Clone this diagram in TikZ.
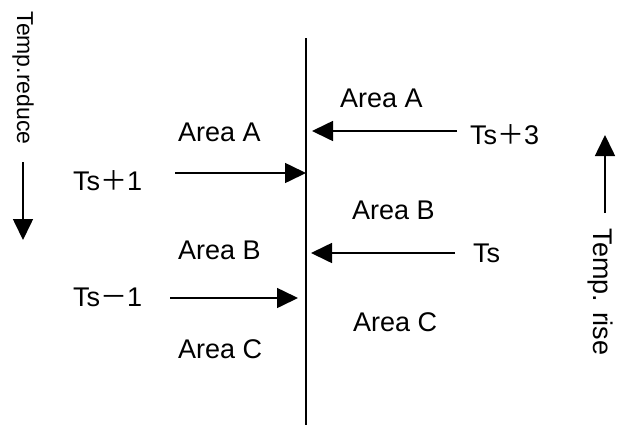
\documentclass[tikz,border=0pt]{standalone}
\usepackage{fontspec}
\setmainfont{Liberation Sans}
\newfontfamily\cjk{Noto Sans CJK SC}
\usetikzlibrary{arrows.meta}

\begin{document}
\begin{tikzpicture}[
    x=1pt, y=-1pt,
    font=\fontsize{27}{32}\selectfont,
    area/.style={anchor=west, inner sep=0pt},
    level/.style={anchor=west, inner sep=0pt},
    trend/.style={rotate=-90, inner sep=0pt},
    arrow/.style={-{Triangle[length=21pt, width=20pt]}, line width=1.6pt, draw=black}
  ]
    \useasboundingbox (0,0) rectangle (618,429);

    % boundary line
    \coordinate (top) at (306, 38);
    \coordinate (bot) at (306, 425);
    \draw[line width=1.6pt] (top) -- (bot);

    % left side
    \node[area] (aL) at (178, 132) {Area A};
    \node[area] (bL) at (178, 250) {Area B};
    \node[area] (cL) at (178, 349) {Area C};
    \node[level] (ts1) at (73, 181) {Ts{\cjk ＋}1};
    \node[level] (tsm1) at (73, 297) {Ts{\cjk －}1};
    \coordinate (e1) at (306, 173);
    \coordinate (s1) at (175, 173);
    \coordinate (e2) at (298, 298);
    \coordinate (s2) at (170, 298);

    % right side
    \node[area] (aR) at (340, 98) {Area A};
    \node[area] (bR) at (352, 210) {Area B};
    \node[area] (cR) at (353, 322) {Area C};
    \node[level] (ts3) at (470, 135) {Ts{\cjk ＋}3};
    \node[level] (ts) at (473, 253) {Ts};
    \coordinate (e3) at (312, 131);
    \coordinate (s3) at (457, 131);
    \coordinate (e4) at (311, 253);
    \coordinate (s4) at (455, 253);

    % temperature trend
    \node[trend, font=\fontsize{23}{28}\selectfont] (reduce) at (23, 78) {Temp.reduce};
    \node[trend] (rise) at (600, 292) {Temp. rise};
    \coordinate (r0) at (23, 162);
    \coordinate (r1) at (23, 240);
    \coordinate (u0) at (605, 213);
    \coordinate (u1) at (605, 135);

    % Flow transitions
    \draw[arrow] (s1) -- (e1);
    \draw[arrow] (s2) -- (e2);
    \draw[arrow] (s3) -- (e3);
    \draw[arrow] (s4) -- (e4);
    \draw[arrow] (r0) -- (r1);
    \draw[arrow] (u0) -- (u1);

  \end{tikzpicture}
\end{document}
